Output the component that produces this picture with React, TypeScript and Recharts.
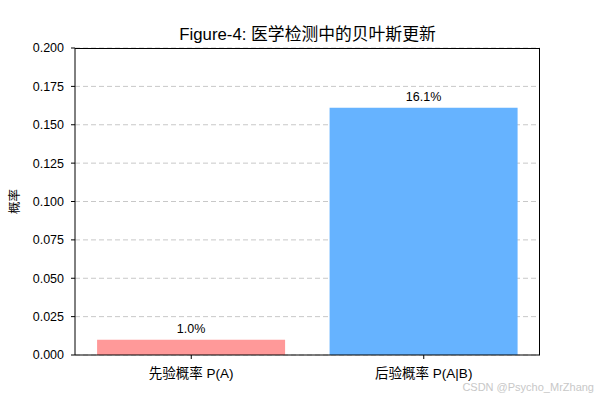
import { BarChart, Bar, XAxis, YAxis, CartesianGrid, Cell, LabelList } from "recharts";

const categories = ["先验概率 P(A)", "后验概率 P(A|B)"];
const probabilities = [0.01, 0.161];
const barColors = ["#ff9999", "#66b3ff"];
const yTicks = [0, 0.025, 0.05, 0.075, 0.1, 0.125, 0.15, 0.175, 0.2];

const FONT = "'Liberation Sans', Arial, 'Noto Sans CJK SC', sans-serif";

const data = categories.map((name, i) => ({ name, value: probabilities[i], color: barColors[i] }));

function YLabel({ viewBox }: any) {
  const cx = 15;
  const cy = viewBox.y + viewBox.height / 2;
  return (
    <text
      x={cx}
      y={cy}
      transform={`rotate(-90 ${cx} ${cy})`}
      textAnchor="middle"
      dominantBaseline="central"
      fontSize={12.5}
      fill="#000"
      fontFamily={FONT}
    >
      概率
    </text>
  );
}

function XTick({ x, y, payload }: any) {
  return (
    <text x={x} y={y + 17} textAnchor="middle" fontSize={13.5} fill="#000" fontFamily={FONT}>
      {payload.value}
    </text>
  );
}

export default function App() {
  return (
    <div style={{ position: "absolute", left: 0, top: 0, width: 600, height: 400, background: "#fff", fontFamily: FONT }}>
      <div
        style={{
          position: "absolute",
          left: 75,
          width: 465,
          top: 24,
          textAlign: "center",
          fontSize: 16.8,
          lineHeight: "22px",
          color: "#000",
        }}
      >
        Figure-4: 医学检测中的贝叶斯更新
      </div>
      <BarChart
        width={600}
        height={400}
        data={data}
        margin={{ top: 48, right: 60, bottom: 15, left: 0 }}
        barCategoryGap="9.5%"
      >
        <CartesianGrid vertical={false} stroke="#c8c8c8" strokeDasharray="5 3" />
        <XAxis
          dataKey="name"
          height={30}
          axisLine={{ stroke: "#000" }}
          tickLine={{ stroke: "#000" }}
          tickSize={4}
          tick={<XTick />}
        />
        <YAxis
          domain={[0, 0.2]}
          ticks={yTicks}
          width={75}
          interval={0}
          axisLine={{ stroke: "#000" }}
          tickLine={{ stroke: "#000" }}
          tickSize={4}
          tickMargin={7}
          tickFormatter={(v: number) => v.toFixed(3)}
          tick={{ fill: "#000", fontSize: 12.5, fontFamily: FONT }}
          label={<YLabel />}
        />
        <Bar dataKey="value" isAnimationActive={false}>
          {data.map((d) => (
            <Cell key={d.name} fill={d.color} />
          ))}
          <LabelList
            dataKey="value"
            position="top"
            offset={7}
            formatter={(v: number) => `${(v * 100).toFixed(1)}%`}
            style={{ fill: "#000", fontSize: 12.5, fontFamily: FONT }}
          />
        </Bar>
      </BarChart>
      {/* plot frame (top and right spines) */}
      <div
        style={{
          position: "absolute",
          left: 75,
          top: 48,
          width: 465,
          height: 307,
          borderTop: "1px solid #000",
          borderRight: "1px solid #000",
          boxSizing: "border-box",
          pointerEvents: "none",
        }}
      />
      <div
        style={{
          position: "absolute",
          right: 6,
          top: 381,
          fontSize: 11,
          color: "#c8c8c8",
          fontFamily: FONT,
        }}
      >
        CSDN @Psycho_MrZhang
      </div>
    </div>
  );
}
